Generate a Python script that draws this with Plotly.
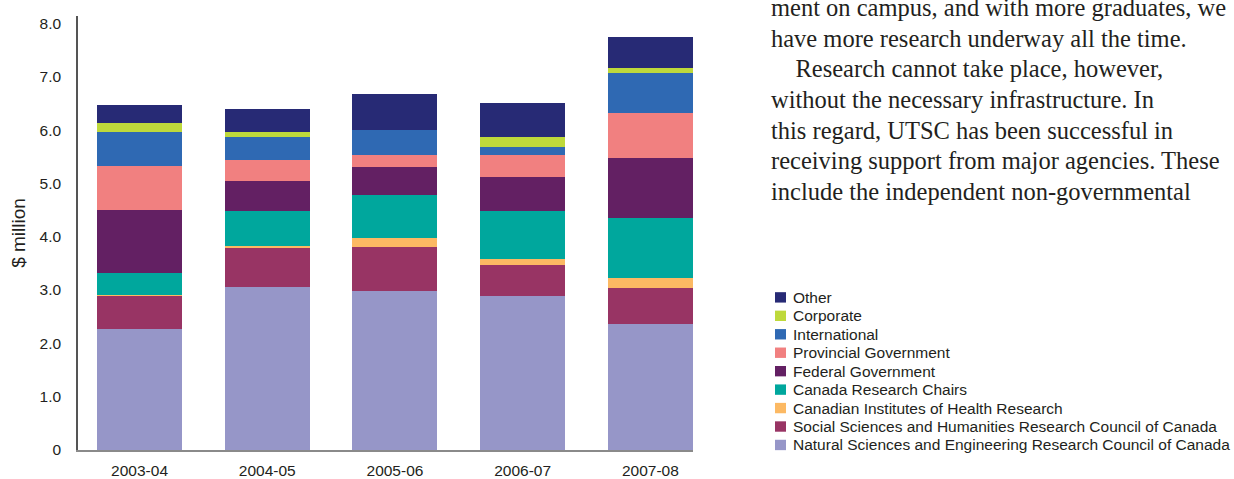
import plotly.graph_objects as go

# ---------------- data ----------------
years = ["2003-04", "2004-05", "2005-06", "2006-07", "2007-08"]

series_names = [
    "Natural Sciences and Engineering Research Council of Canada",
    "Social Sciences and Humanities Research Council of Canada",
    "Canadian Institutes of Health Research",
    "Canada Research Chairs",
    "Federal Government",
    "Provincial Government",
    "International",
    "Corporate",
    "Other",
]
nserc = [2.27, 3.06, 2.99, 2.89, 2.37]
sshrc = [0.62, 0.73, 0.82, 0.58, 0.66]
cihr = [0.02, 0.04, 0.17, 0.11, 0.19]
crc = [0.41, 0.66, 0.81, 0.90, 1.14]
federal = [1.18, 0.56, 0.52, 0.64, 1.12]
provincial = [0.82, 0.39, 0.23, 0.41, 0.84]
international = [0.64, 0.43, 0.47, 0.15, 0.75]
corporate = [0.17, 0.10, 0.00, 0.19, 0.09]
other = [0.34, 0.43, 0.66, 0.64, 0.58]
series_values = [nserc, sshrc, cihr, crc, federal, provincial, international, corporate, other]

colors = ["#9696C8", "#983464", "#FCB963", "#00A79D", "#632063",
          "#F18080", "#2F69B3", "#BED93B", "#272A75"]

y_tickvals = [0, 1, 2, 3, 4, 5, 6, 7, 8]
y_ticktext = ["0", "1.0", "2.0", "3.0", "4.0", "5.0", "6.0", "7.0", "8.0"]

paragraph = [
    "ment on campus, and with more graduates, we",
    "have more research underway all the time.",
    "\u2003Research cannot take place, however,",
    "without the necessary infrastructure. In",
    "this regard, UTSC has been successful in",
    "receiving support from major agencies. These",
    "include the independent non-governmental",
]

# ---------------- layout geometry ----------------
W, H = 1234, 479
L, R, T, B = 78, 541, 16, 28.5
pw = W - L - R
ph = H - T - B


def px(x):
    return (x - L) / pw


def py(y):
    return (H - B - y) / ph


TEXT = "#231F20"
SANS = "Liberation Sans, Arial, sans-serif"
SERIF = "Liberation Serif, Times New Roman, serif"

fig = go.Figure()
for name, vals, col in zip(series_names, series_values, colors):
    fig.add_trace(go.Bar(
        x=years, y=vals, name=name,
        marker=dict(color=col, line=dict(width=0)),
        showlegend=False,
    ))

shapes = []
annotations = []

# manual legend (top item = Other)
row0 = 297.7
step = 18.47
for i, (name, col) in enumerate(zip(series_names[::-1], colors[::-1])):
    cy = row0 + i * step
    shapes.append(dict(type="rect", xref="paper", yref="paper",
                       x0=px(775), x1=px(786), y0=py(cy - 5.2), y1=py(cy + 5.2),
                       fillcolor=col, line=dict(width=0)))
    annotations.append(dict(text=name, xref="paper", yref="paper",
                            x=px(791), y=py(cy), xanchor="left", yanchor="middle",
                            showarrow=False,
                            font=dict(family=SANS, size=15.5, color=TEXT)))

# paragraph text
baselines = [14, 45.5, 76, 107, 137.5, 168, 199]
for line, bl in zip(paragraph, baselines):
    annotations.append(dict(text=line, xref="paper", yref="paper",
                            x=px(769), y=py(bl - 7), xanchor="left", yanchor="middle",
                            showarrow=False,
                            font=dict(family=SERIF, size=24.5, color=TEXT)))

fig.update_layout(
    width=W, height=H,
    margin=dict(l=L, r=R, t=T, b=B, pad=0, autoexpand=False),
    paper_bgcolor="white", plot_bgcolor="white",
    barmode="stack", bargap=0.334,
    showlegend=False,
    shapes=shapes,
    annotations=annotations,
    xaxis=dict(
        type="category", automargin=False,
        range=[-0.482, 4.334], showgrid=False, zeroline=False,
        showline=True, linecolor="#8A8A8A", linewidth=1.5,
        ticks="", ticklabelstandoff=6,
        tickfont=dict(family=SANS, size=15.5, color=TEXT),
        fixedrange=True,
    ),
    yaxis=dict(
        automargin=False,
        range=[0, 8.14], showgrid=False, zeroline=False,
        showline=True, linecolor="#555555", linewidth=1.5,
        tickvals=y_tickvals, ticktext=y_ticktext,
        ticks="", ticklabelstandoff=12,
        tickfont=dict(family=SANS, size=15.5, color=TEXT),
        title=dict(text="$ million", standoff=9,
                   font=dict(family=SANS, size=19, color=TEXT)),
        fixedrange=True,
    ),
)

fig.write_html("out.html", config={"displayModeBar": False},
               post_script="document.body.style.margin='0';document.body.style.overflow='hidden';")
